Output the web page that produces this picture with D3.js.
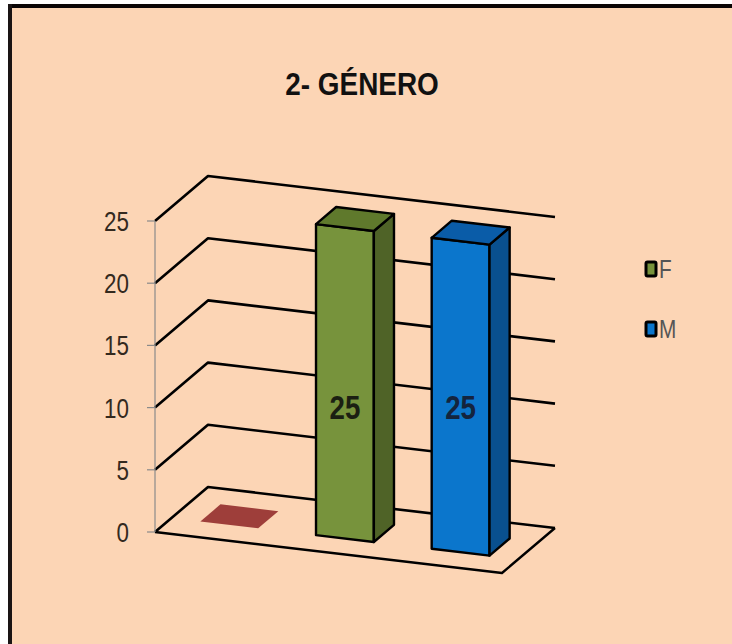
<!DOCTYPE html>
<html>
<head>
<meta charset="utf-8">
<script src="https://cdn.jsdelivr.net/npm/d3@7"></script>
<style>
  html, body { margin: 0; padding: 0; background: #ffffff; }
  svg { display: block; }
</style>
</head>
<body>
<script>
// ---- data ----
const title = "2- GÉNERO";
const categories = ["", "F", "M"];
const values = [0, 25, 25];
const legendNames = ["F", "M"];
const yTicks = [0, 5, 10, 15, 20, 25];
const dataLabels = ["", "25", "25"];

// ---- styles ----
const frontColors = ["#a0413d", "#77933c", "#0b76cc"];
const topColors   = ["#9e3e3a", "#5f792c", "#0a5ca8"];
const sideColors  = ["#7a2e2b", "#4f6327", "#09508f"];
const labelColors = ["#1a1a1a", "#1b1f12", "#14243e"];
const FONT = "'Liberation Sans', Arial, sans-serif";

const Wd = 732, Ht = 644;
const svg = d3.select("body").append("svg").attr("width", Wd).attr("height", Ht);

// background and frame
svg.append("rect").attr("x", 0).attr("y", 0).attr("width", Wd).attr("height", Ht).attr("fill", "#ffffff");
svg.append("rect").attr("x", 9).attr("y", 6).attr("width", Wd - 9).attr("height", Ht - 6).attr("fill", "#fcd5b5");
svg.append("line").attr("x1", 8).attr("x2", Wd).attr("y1", 6).attr("y2", 6).attr("stroke", "#0a0505").attr("stroke-width", 4);
svg.append("line").attr("x1", 10).attr("x2", 10).attr("y1", 4).attr("y2", Ht).attr("stroke", "#1a1414").attr("stroke-width", 4);

// condensed text helper (scaled horizontally)
function ctext(g, xPos, yPos, str, opts) {
  return g.append("text")
    .attr("transform", `translate(${xPos},${yPos}) scale(${opts.sx},1)`)
    .attr("dy", opts.dy ?? "0.36em")
    .attr("text-anchor", opts.anchor || "start")
    .attr("font-family", FONT)
    .attr("font-weight", opts.weight || "normal")
    .attr("font-size", opts.size)
    .attr("fill", opts.fill)
    .text(str);
}

// title
ctext(svg, 362, 95, title, { sx: 0.9, dy: 0, anchor: "middle", weight: "bold", size: 31, fill: "#111" });

// ---- 3D oblique projection ----
const ox = 155, oy = 532;       // front-left floor corner
const plotW = 347;              // width along category axis
const slopeY = 41;              // vertical drop across full width
const dX = 53, dY = -45;        // depth vector
const x = d3.scaleBand().domain(categories).range([0, plotW]).paddingInner(0.5).paddingOuter(0.25);
const y = d3.scaleLinear().domain([0, 25]).range([0, 311]);

function P(s, z, v) {
  return [ox + s + dX * z, oy + s * slopeY / plotW + dY * z - y(v)];
}
const line = d3.line();

// gridlines (side wall + back wall)
const gridG = svg.append("g");
yTicks.forEach(t => {
  gridG.append("path")
    .attr("d", line([P(0, 0, t), P(0, 1, t), P(plotW, 1, t)]))
    .attr("fill", "none").attr("stroke", "#000").attr("stroke-width", 2.6)
    .attr("stroke-linejoin", "round");
});
// floor front and right edges
gridG.append("path")
  .attr("d", line([P(0, 0, 0), P(plotW, 0, 0), P(plotW, 1, 0)]))
  .attr("fill", "none").attr("stroke", "#000").attr("stroke-width", 2.4)
  .attr("stroke-linejoin", "round");

// value axis
const axG = svg.append("g");
axG.append("line")
  .attr("x1", ox).attr("x2", ox).attr("y1", oy - y(0)).attr("y2", oy - y(25))
  .attr("stroke", "#8a8a8a").attr("stroke-width", 1.2);
yTicks.forEach(t => {
  axG.append("line")
    .attr("x1", ox - 8).attr("x2", ox).attr("y1", oy - y(t)).attr("y2", oy - y(t))
    .attr("stroke", "#8a8a8a").attr("stroke-width", 1.2);
  ctext(axG, 129, oy - y(t), String(t), { sx: 0.8, anchor: "end", size: 28, fill: "#33291e" });
});

// bars
const z0 = 0.31, z1 = 0.69;
const barG = svg.append("g");
categories.forEach((c, i) => {
  const v = values[i];
  const x0 = x(c), x1 = x(c) + x.bandwidth();
  if (v === 0) {
    barG.append("path")
      .attr("d", line([P(x0, z0, 0), P(x1, z0, 0), P(x1, z1, 0), P(x0, z1, 0)]) + "Z")
      .attr("fill", topColors[i]);
    return;
  }
  const sw = 2.4;
  barG.append("path")
    .attr("d", line([P(x0, z0, 0), P(x1, z0, 0), P(x1, z0, v), P(x0, z0, v)]) + "Z")
    .attr("fill", frontColors[i]).attr("stroke", "#000").attr("stroke-width", sw).attr("stroke-linejoin", "round");
  barG.append("path")
    .attr("d", line([P(x1, z0, 0), P(x1, z1, 0), P(x1, z1, v), P(x1, z0, v)]) + "Z")
    .attr("fill", sideColors[i]).attr("stroke", "#000").attr("stroke-width", sw).attr("stroke-linejoin", "round");
  barG.append("path")
    .attr("d", line([P(x0, z0, v), P(x1, z0, v), P(x1, z1, v), P(x0, z1, v)]) + "Z")
    .attr("fill", topColors[i]).attr("stroke", "#000").attr("stroke-width", sw).attr("stroke-linejoin", "round");
  // data label
  const xc = x0 + x.bandwidth() / 2;
  ctext(barG, P(xc, z0, 0)[0], oy - y(v * 0.4), dataLabels[i],
        { sx: 0.84, anchor: "middle", weight: "bold", size: 33, fill: labelColors[i] });
});

// legend
const legG = svg.append("g");
legendNames.forEach((n, j) => {
  const i = categories.indexOf(n);
  const cy = 269 + j * 60;
  legG.append("rect")
    .attr("x", 646).attr("y", cy - 7).attr("width", 10).attr("height", 14)
    .attr("rx", 1.5)
    .attr("fill", frontColors[i]).attr("stroke", "#000").attr("stroke-width", 3);
  ctext(legG, 659, cy, n, { sx: 0.8, anchor: "start", size: 26, fill: "#555" });
});
</script>
</body>
</html>
